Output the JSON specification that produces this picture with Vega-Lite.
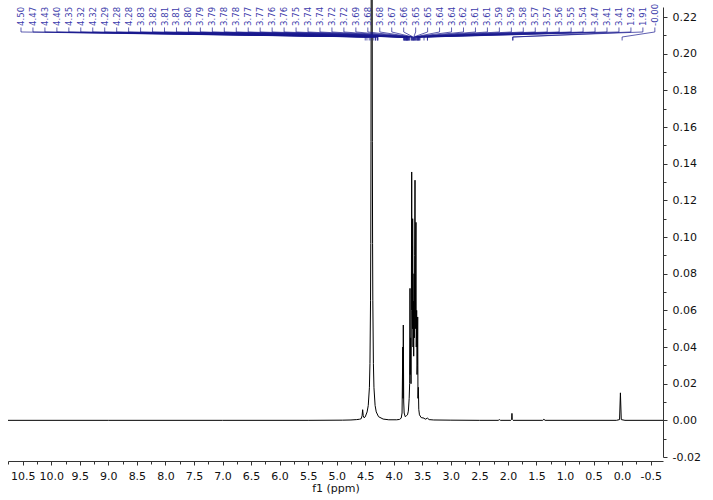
{
  "$schema": "https://vega.github.io/schema/vega-lite/v6.json",
  "width": 655,
  "height": 450,
  "autosize": {"type": "none"},
  "padding": {"left": 8, "top": 7, "right": 50, "bottom": 43},
  "background": "white",
  "config": {
    "view": {"stroke": null},
    "axis": {"labelOverlap": false, "labelFlush": false, "grid": false}
  },
  "resolve": {"axis": {"x": "independent", "y": "independent"}},
  "datasets": {
    "spectrum": [
      {"ppm": 10.7575, "intensity": 0}, {"ppm": 9.0, "intensity": 0}, {"ppm": 7.0, "intensity": 0},
      {"ppm": 5.5, "intensity": 0}, {"ppm": 4.9, "intensity": 0.0001}, {"ppm": 4.75, "intensity": 0.0002},
      {"ppm": 4.65, "intensity": 0.0004}, {"ppm": 4.6, "intensity": 0.0006}, {"ppm": 4.57, "intensity": 0.0009},
      {"ppm": 4.555, "intensity": 0.0025}, {"ppm": 4.545, "intensity": 0.0058}, {"ppm": 4.535, "intensity": 0.0025},
      {"ppm": 4.52, "intensity": 0.0014}, {"ppm": 4.5, "intensity": 0.0019}, {"ppm": 4.467, "intensity": 0.0046},
      {"ppm": 4.447, "intensity": 0.0081}, {"ppm": 4.427, "intensity": 0.0178}, {"ppm": 4.417, "intensity": 0.031},
      {"ppm": 4.407, "intensity": 0.0655}, {"ppm": 4.403, "intensity": 0.0964}, {"ppm": 4.399, "intensity": 0.152},
      {"ppm": 4.395, "intensity": 0.26}, {"ppm": 4.391, "intensity": 0.452}, {"ppm": 4.387, "intensity": 0.6},
      {"ppm": 4.383, "intensity": 0.452}, {"ppm": 4.379, "intensity": 0.26}, {"ppm": 4.375, "intensity": 0.152},
      {"ppm": 4.371, "intensity": 0.0964}, {"ppm": 4.367, "intensity": 0.0655}, {"ppm": 4.357, "intensity": 0.031},
      {"ppm": 4.347, "intensity": 0.0178}, {"ppm": 4.327, "intensity": 0.0081}, {"ppm": 4.307, "intensity": 0.0046},
      {"ppm": 4.267, "intensity": 0.002}, {"ppm": 4.187, "intensity": 0.0007}, {"ppm": 4.087, "intensity": 0.0003},
      {"ppm": 3.95, "intensity": 0.0003}, {"ppm": 3.9, "intensity": 0.0005}, {"ppm": 3.87, "intensity": 0.0012},
      {"ppm": 3.855, "intensity": 0.004}, {"ppm": 3.842, "intensity": 0.04}, {"ppm": 3.838, "intensity": 0.012},
      {"ppm": 3.833, "intensity": 0.052}, {"ppm": 3.826, "intensity": 0.01}, {"ppm": 3.818, "intensity": 0.004},
      {"ppm": 3.8, "intensity": 0.002}, {"ppm": 3.78, "intensity": 0.0025}, {"ppm": 3.76, "intensity": 0.003},
      {"ppm": 3.745, "intensity": 0.005}, {"ppm": 3.73, "intensity": 0.012}, {"ppm": 3.722, "intensity": 0.02},
      {"ppm": 3.716, "intensity": 0.072}, {"ppm": 3.711, "intensity": 0.025}, {"ppm": 3.704, "intensity": 0.045},
      {"ppm": 3.698, "intensity": 0.02}, {"ppm": 3.692, "intensity": 0.06}, {"ppm": 3.686, "intensity": 0.1355},
      {"ppm": 3.681, "intensity": 0.06}, {"ppm": 3.676, "intensity": 0.095}, {"ppm": 3.672, "intensity": 0.05},
      {"ppm": 3.669, "intensity": 0.11}, {"ppm": 3.663, "intensity": 0.04}, {"ppm": 3.657, "intensity": 0.065},
      {"ppm": 3.651, "intensity": 0.035}, {"ppm": 3.645, "intensity": 0.08}, {"ppm": 3.64, "intensity": 0.045},
      {"ppm": 3.634, "intensity": 0.09}, {"ppm": 3.628, "intensity": 0.131}, {"ppm": 3.622, "intensity": 0.05},
      {"ppm": 3.617, "intensity": 0.08}, {"ppm": 3.611, "intensity": 0.108}, {"ppm": 3.606, "intensity": 0.04},
      {"ppm": 3.599, "intensity": 0.06}, {"ppm": 3.593, "intensity": 0.025}, {"ppm": 3.587, "intensity": 0.03},
      {"ppm": 3.581, "intensity": 0.0564}, {"ppm": 3.576, "intensity": 0.012}, {"ppm": 3.569, "intensity": 0.018},
      {"ppm": 3.562, "intensity": 0.006}, {"ppm": 3.55, "intensity": 0.003}, {"ppm": 3.52, "intensity": 0.0015},
      {"ppm": 3.47, "intensity": 0.0012}, {"ppm": 3.45, "intensity": 0.0006}, {"ppm": 3.41, "intensity": 0.0012},
      {"ppm": 3.38, "intensity": 0.0004}, {"ppm": 3.3, "intensity": 0.0002}, {"ppm": 3.0, "intensity": 0.0001},
      {"ppm": 2.5, "intensity": 0}, {"ppm": 2.17, "intensity": 0}, {"ppm": 2.15, "intensity": 0.0004},
      {"ppm": 2.13, "intensity": 0}, {"ppm": 1.95, "intensity": 0}, {"ppm": 1.935, "intensity": 0.0005},
      {"ppm": 1.93, "intensity": 0.0038}, {"ppm": 1.925, "intensity": 0.0005}, {"ppm": 1.91, "intensity": 0},
      {"ppm": 1.39, "intensity": 0}, {"ppm": 1.37, "intensity": 0.0006}, {"ppm": 1.35, "intensity": 0},
      {"ppm": 0.1, "intensity": 0}, {"ppm": 0.045, "intensity": 0.0004}, {"ppm": 0.03, "intensity": 0.015},
      {"ppm": 0.015, "intensity": 0.0004}, {"ppm": -0.05, "intensity": 0}, {"ppm": -0.716, "intensity": 0}
    ],
    "peaks": [
      {"i": 0, "label": "4.50", "ppm": 4.50}, {"i": 1, "label": "4.47", "ppm": 4.47},
      {"i": 2, "label": "4.43", "ppm": 4.43}, {"i": 3, "label": "4.40", "ppm": 4.40},
      {"i": 4, "label": "4.35", "ppm": 4.35}, {"i": 5, "label": "4.32", "ppm": 4.32},
      {"i": 6, "label": "4.32", "ppm": 4.32}, {"i": 7, "label": "4.29", "ppm": 4.29},
      {"i": 8, "label": "4.28", "ppm": 4.28}, {"i": 9, "label": "4.28", "ppm": 4.28},
      {"i": 10, "label": "3.83", "ppm": 3.83}, {"i": 11, "label": "3.82", "ppm": 3.82},
      {"i": 12, "label": "3.81", "ppm": 3.81}, {"i": 13, "label": "3.81", "ppm": 3.81},
      {"i": 14, "label": "3.80", "ppm": 3.80}, {"i": 15, "label": "3.79", "ppm": 3.79},
      {"i": 16, "label": "3.79", "ppm": 3.79}, {"i": 17, "label": "3.78", "ppm": 3.78},
      {"i": 18, "label": "3.78", "ppm": 3.78}, {"i": 19, "label": "3.77", "ppm": 3.77},
      {"i": 20, "label": "3.77", "ppm": 3.77}, {"i": 21, "label": "3.76", "ppm": 3.76},
      {"i": 22, "label": "3.76", "ppm": 3.76}, {"i": 23, "label": "3.75", "ppm": 3.75},
      {"i": 24, "label": "3.74", "ppm": 3.74}, {"i": 25, "label": "3.74", "ppm": 3.74},
      {"i": 26, "label": "3.72", "ppm": 3.72}, {"i": 27, "label": "3.72", "ppm": 3.72},
      {"i": 28, "label": "3.69", "ppm": 3.69}, {"i": 29, "label": "3.68", "ppm": 3.68},
      {"i": 30, "label": "3.68", "ppm": 3.68}, {"i": 31, "label": "3.67", "ppm": 3.67},
      {"i": 32, "label": "3.66", "ppm": 3.66}, {"i": 33, "label": "3.65", "ppm": 3.65},
      {"i": 34, "label": "3.65", "ppm": 3.65}, {"i": 35, "label": "3.64", "ppm": 3.64},
      {"i": 36, "label": "3.64", "ppm": 3.64}, {"i": 37, "label": "3.62", "ppm": 3.62},
      {"i": 38, "label": "3.61", "ppm": 3.61}, {"i": 39, "label": "3.61", "ppm": 3.61},
      {"i": 40, "label": "3.59", "ppm": 3.59}, {"i": 41, "label": "3.59", "ppm": 3.59},
      {"i": 42, "label": "3.58", "ppm": 3.58}, {"i": 43, "label": "3.57", "ppm": 3.57},
      {"i": 44, "label": "3.57", "ppm": 3.57}, {"i": 45, "label": "3.56", "ppm": 3.56},
      {"i": 46, "label": "3.55", "ppm": 3.55}, {"i": 47, "label": "3.54", "ppm": 3.54},
      {"i": 48, "label": "3.47", "ppm": 3.47}, {"i": 49, "label": "3.41", "ppm": 3.41},
      {"i": 50, "label": "3.41", "ppm": 3.41}, {"i": 51, "label": "1.92", "ppm": 1.92},
      {"i": 52, "label": "1.91", "ppm": 1.91}, {"i": 53, "label": "-0.00", "ppm": 0.0}
    ]
  },
  "layer": [
    {
      "data": {"name": "spectrum"},
      "mark": {"type": "line", "color": "black", "strokeWidth": 1, "clip": false},
      "encoding": {
        "x": {
          "field": "ppm", "type": "quantitative",
          "scale": {"domain": [-0.716, 10.7575], "reverse": true, "nice": false, "zero": false},
          "axis": {
            "orient": "bottom", "offset": 4, "title": "f1 (ppm)",
            "values": [10.5, 10, 9.5, 9, 8.5, 8, 7.5, 7, 6.5, 6, 5.5, 5, 4.5, 4, 3.5, 3, 2.5, 2, 1.5, 1, 0.5, 0, -0.5],
            "labelExpr": "replace(format(datum.value,'.1f'),'\u2212','-')",
            "grid": false, "tickSize": 4, "labelPadding": 5, "titlePadding": 1,
            "labelOverlap": false, "labelFlush": false,
            "domainColor": "#333333", "tickColor": "#333333", "labelColor": "#111111", "titleColor": "#111111",
            "labelFont": "DejaVu Sans", "titleFont": "DejaVu Sans", "labelFontSize": 11, "titleFontSize": 11, "titleFontWeight": "normal"
          }
        },
        "y": {
          "field": "intensity", "type": "quantitative",
          "scale": {"domain": [-0.02, 0.2255], "nice": false, "zero": false},
          "axis": {
            "orient": "right", "title": null,
            "values": [-0.02, 0, 0.02, 0.04, 0.06, 0.08, 0.1, 0.12, 0.14, 0.16, 0.18, 0.2, 0.22],
            "labelExpr": "replace(format(datum.value,'.2f'),'\u2212','-')",
            "grid": false, "tickSize": 4, "labelPadding": 5,
            "labelOverlap": false, "labelFlush": false,
            "domainColor": "#333333", "tickColor": "#333333", "labelColor": "#111111",
            "labelFont": "DejaVu Sans", "labelFontSize": 11
          }
        }
      }
    },
    {
      "data": {"name": "peaks"},
      "transform": [{"calculate": "10.5298 - 0.20949*datum.i", "as": "slot"}],
      "mark": {"type": "text", "angle": 270, "align": "left", "baseline": "middle", "fontSize": 8.5, "font": "DejaVu Sans", "color": "#3d3dab"},
      "encoding": {
        "x": {"field": "slot", "type": "quantitative", "axis": null},
        "y": {"datum": 0.2152, "type": "quantitative", "axis": null},
        "text": {"field": "label", "type": "nominal"}
      }
    },
    {
      "data": {"name": "peaks"},
      "transform": [{"calculate": "10.5298 - 0.20949*datum.i", "as": "slot"}],
      "mark": {"type": "rule", "color": "#1a1a8f", "strokeWidth": 0.7},
      "encoding": {
        "x": {"field": "slot", "type": "quantitative", "axis": null},
        "y": {"datum": 0.21433, "type": "quantitative", "axis": null},
        "y2": {"datum": 0.21187}
      }
    },
    {
      "data": {"name": "peaks"},
      "transform": [{"calculate": "10.5298 - 0.20949*datum.i", "as": "slot"}],
      "mark": {"type": "rule", "color": "#1a1a8f", "strokeWidth": 0.7},
      "encoding": {
        "x": {"field": "slot", "type": "quantitative", "axis": null},
        "x2": {"field": "ppm"},
        "y": {"datum": 0.21187, "type": "quantitative", "axis": null},
        "y2": {"datum": 0.20914}
      }
    },
    {
      "data": {"name": "peaks"},
      "mark": {"type": "rule", "color": "#1a1a8f", "strokeWidth": 0.7},
      "encoding": {
        "x": {
          "field": "ppm", "type": "quantitative",
          "axis": {
            "orient": "bottom", "offset": 4, "title": null, "labels": false, "domain": false, "grid": false,
            "values": [10.75, 10.25, 9.75, 9.25, 8.75, 8.25, 7.75, 7.25, 6.75, 6.25, 5.75, 5.25, 4.75, 4.25, 3.75, 3.25, 2.75, 2.25, 1.75, 1.25, 0.75, 0.25, -0.25],
            "tickSize": 3, "tickColor": "#333333"
          }
        },
        "y": {
          "datum": 0.20914, "type": "quantitative",
          "axis": {
            "orient": "right", "title": null, "labels": false, "domain": false, "grid": false,
            "values": [-0.01, 0.01, 0.03, 0.05, 0.07, 0.09, 0.11, 0.13, 0.15, 0.17, 0.19, 0.21],
            "tickSize": 3, "tickColor": "#333333"
          }
        },
        "y2": {"datum": 0.20723}
      }
    }
  ]
}
